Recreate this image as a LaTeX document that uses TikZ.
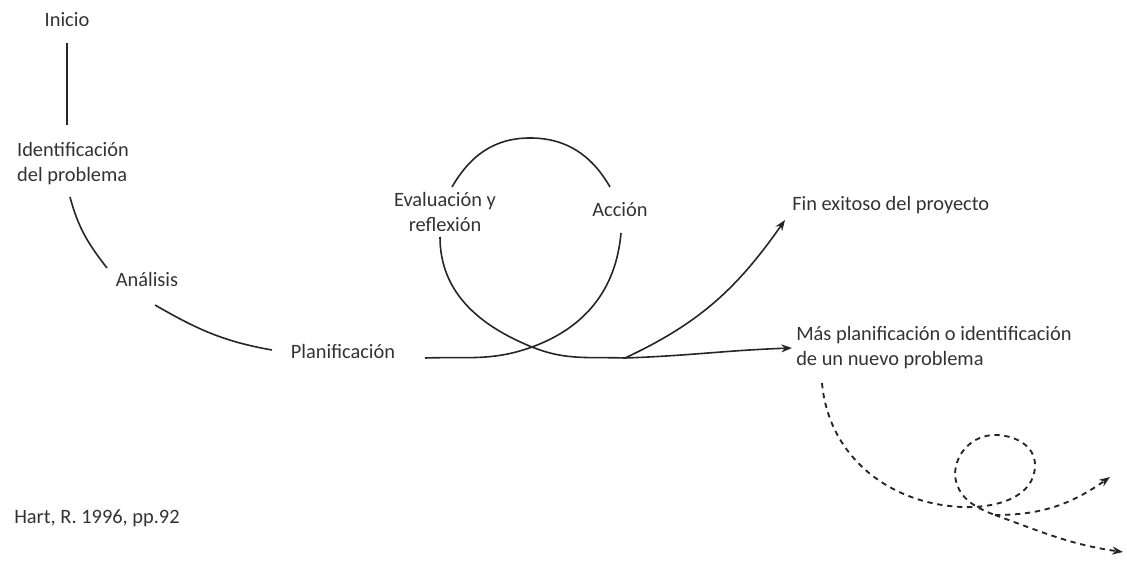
\documentclass[tikz,border=0pt]{standalone}
\usepackage{fontspec}
\setmainfont{Carlito}
\usetikzlibrary{calc}
\usetikzlibrary{positioning, arrows.meta}

\tikzset{
  lbl/.style={inner sep=0.75pt, text=black!80, font=\fontsize{15.3}{18.8}\selectfont},
  curve/.style={line width=1.2pt, draw=black!85},
  dashline/.style={curve, line width=1.4pt, dash pattern=on 4pt off 3.5pt},
  tip/.style={-{Stealth[length=8pt,width=6pt]}},
}

\begin{document}
\begin{tikzpicture}[x=0.75pt,y=0.75pt,yscale=-1,xscale=1]
        \useasboundingbox (0,0) rectangle (1127,560);

        % Text Node
        \node [lbl] (inicio) at (67,20) {Inicio};
        % Text Node
        \node [lbl, align=left] (ident) at (73,164) {Identificación\\del problema};
        % Text Node
        \node [lbl] (analisis) at (147,279) {Análisis};
        % Text Node
        \node [lbl] (plan) at (343,351) {Planificación};
        % Text Node
        \node [lbl, align=center] (eval) at (445,212) {Evaluación y\\reflexión};
        % Text Node
        \node [lbl] (accion) at (620,210) {Acción};
        % Text Node
        \node [lbl, anchor=west] (fin) at (791,205) {Fin exitoso del proyecto};
        % Text Node
        \node [lbl, anchor=west, align=left] (mas) at (795,348) {Más planificación o identificación\\de un nuevo problema};
        % Text Node
        \node [lbl, anchor=west] (hart) at (13,518) {Hart, R. 1996, pp.92};

        %Loop points
        \coordinate (cross) at (532,347);
        \coordinate (top) at (530,138);
        \coordinate (split) at (625,358);
        \coordinate (dcross) at (963,507);
        \coordinate (dtop) at (995,435);
        \coordinate (dsplit) at (995,515);

        %Straight Lines
        \draw [curve] ($(inicio)+(0,23)$) -- ($(ident)+(-6,-39)$);
        %Curve Lines (angles measured downwards, yscale=-1)
        \draw [curve] ($(ident)+(-3,33)$) to[out=75,in=-128] ($(analisis)+(-40,-11)$);
        \draw [curve] ($(analisis)+(8,26)$) to[out=30,in=-170] ($(plan)+(-71,-1)$);

        %Solid loop
        \draw [curve] ($(plan)+(82,7)$) to[out=-2,in=160] (cross) to[out=-20,in=95] ($(accion)+(1,23)$);
        \draw [curve] ($(accion)+(-10,-23)$) to[out=-120,in=0] (top) to[out=180,in=-60] ($(eval)+(7,-25)$);
        \draw [curve] ($(eval)+(-5,25)$) to[out=90,in=-158] (cross) to[out=22,in=-178] (split);
        \draw [curve, tip] (split) to[out=-25,in=125] ($(fin.west)+(-6,15)$);
        \draw [curve, tip] (split) to[out=-2,in=-182] ($(mas.west)+(-3,0)$);

        %Dashed loop
        \draw [dashline] ($(mas.west)+(27,35)$) to[out=85,in=-178] (dcross) to[out=2,in=90] (1035,465)
            to[out=-90,in=0] (dtop) to[out=180,in=-90] (955,475) to[out=85,in=-160] (dsplit);
        \draw [dashline, tip] (dsplit) to[out=20,in=-172] (1123,552);
        \draw [dashline, tip] (dsplit) to[out=0,in=145] (1110,477);

    \end{tikzpicture}
\end{document}
